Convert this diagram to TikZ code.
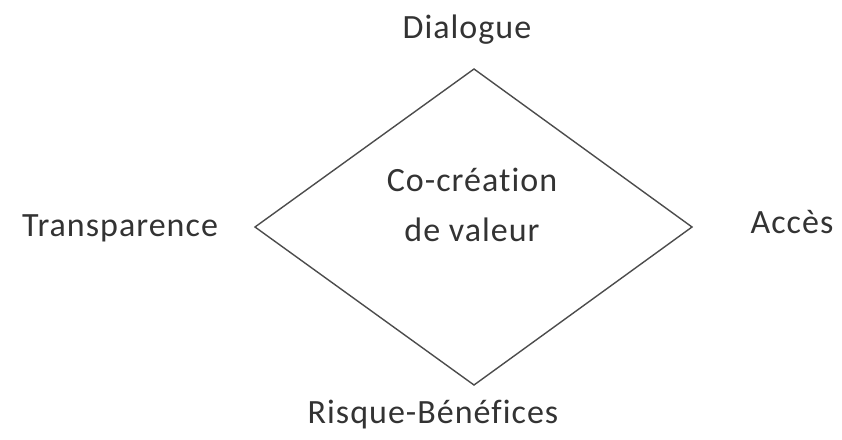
\documentclass[tikz,border=0pt]{standalone}
\usepackage{fontspec}
\setmainfont{Carlito}[LetterSpace=3,RawFeature={-liga}]
\usetikzlibrary{shapes.geometric}
\begin{document}
\begin{tikzpicture}[x=1pt,y=-1pt,
  lbl/.style={font=\fontsize{34}{50}\selectfont, text=black!80, inner sep=0pt},
  edge/.style={draw=black!70, line width=1.4pt, line join=miter}]
\useasboundingbox (0,0) rectangle (842,439);
\coordinate (T) at (474,69);
\coordinate (L) at (255,227);
\coordinate (R) at (692,227);
\coordinate (B) at (474,385);
\draw[edge] (T) -- (R) -- (B) -- (L) -- cycle;
\node[lbl, align=center] (center) at (472,205) {Co-création\\de valeur};
\node[lbl] (dialogue) at (467,30) {Dialogue};
\node[lbl] (transp) at (120,228) {Transparence};
\node[lbl] (acces) at (792,222) {Accès};
\node[lbl] (risque) at (433,415) {Risque-Bénéfices};
\end{tikzpicture}
\end{document}
